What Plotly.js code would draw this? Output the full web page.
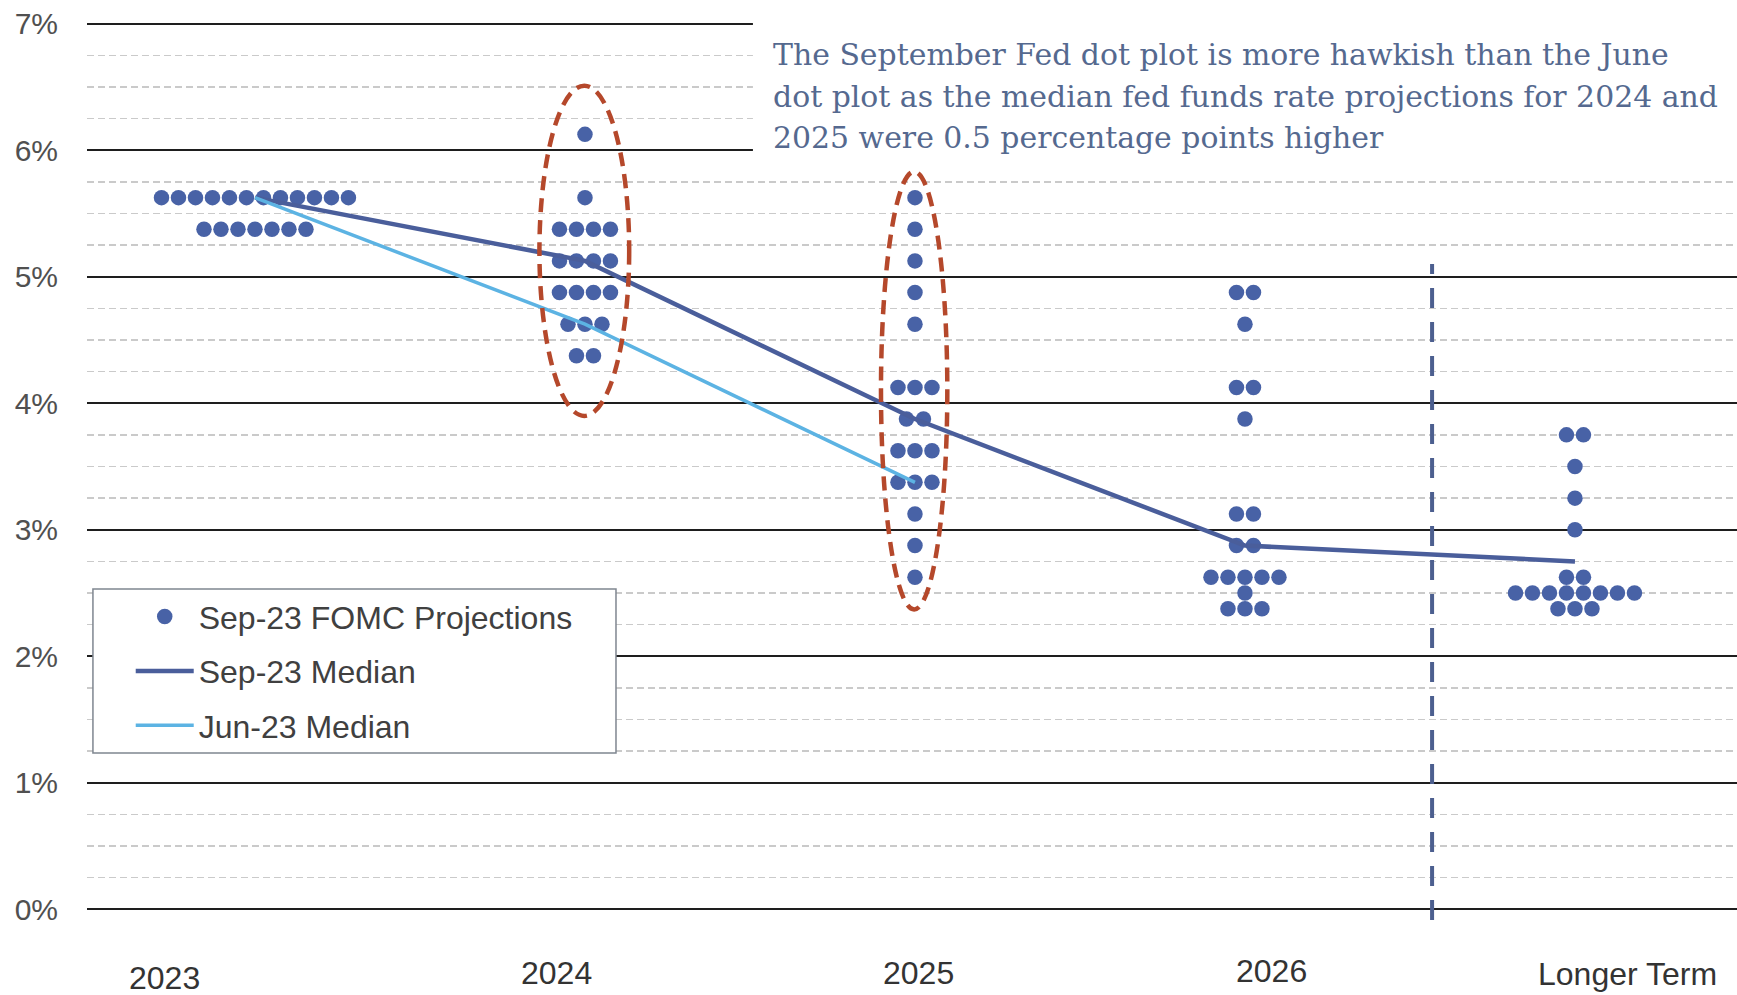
<!DOCTYPE html>
<html>
<head>
<meta charset="utf-8">
<script src="https://cdn.plot.ly/plotly-3.0.1.min.js"></script>
<style>
  html, body { margin: 0; padding: 0; background: #ffffff; }
  #chart { width: 1737px; height: 995px; }
</style>
</head>
<body>
<div id="chart"></div>
<script>
// ---------------- DATA ----------------
const categories = ['2023', '2024', '2025', '2026', 'Longer Term'];

// Sep-23 FOMC individual projections: rate levels per category and number of dots at each level
const rates2023 = [5.625, 5.375];
const counts2023 = [12, 7];
const rates2024 = [6.125, 5.625, 5.375, 5.125, 4.875, 4.625, 4.375];
const counts2024 = [1, 1, 4, 4, 4, 3, 2];
const rates2025 = [5.625, 5.375, 5.125, 4.875, 4.625, 4.125, 3.875, 3.625, 3.375, 3.125, 2.875, 2.625];
const counts2025 = [1, 1, 1, 1, 1, 3, 2, 3, 3, 1, 1, 1];
const rates2026 = [4.875, 4.625, 4.125, 3.875, 3.125, 2.875, 2.625, 2.5, 2.375];
const counts2026 = [2, 1, 2, 1, 2, 2, 5, 1, 3];
const ratesLonger = [3.75, 3.5, 3.25, 3.0, 2.625, 2.5, 2.375];
const countsLonger = [2, 1, 1, 1, 2, 8, 3];

// Medians
const sepMedian = [5.625, 5.125, 3.875, 2.875, 2.75];
const junMedian = [5.625, 4.625, 3.375];

const yTickVals = [0, 1, 2, 3, 4, 5, 6, 7];
const yTickText = ['0%', '1%', '2%', '3%', '4%', '5%', '6%', '7%'];
const noteLines = [
  'The September Fed dot plot is more hawkish than the June',
  'dot plot as the median fed funds rate projections for 2024 and',
  '2025 were 0.5 percentage points higher'
];

// ---------------- BUILD ----------------
const allRates = [rates2023, rates2024, rates2025, rates2026, ratesLonger];
const allCounts = [counts2023, counts2024, counts2025, counts2026, countsLonger];
const DOT_STEP = 0.0515; // horizontal spacing between dots on one level (category units)

const dotX = [], dotY = [];
allRates.forEach((rates, ci) => {
  rates.forEach((r, ri) => {
    const n = allCounts[ci][ri];
    for (let k = 0; k < n; k++) {
      dotX.push(ci + (k - (n - 1) / 2) * DOT_STEP);
      dotY.push(r);
    }
  });
});

const catIdx = categories.map((c, i) => i);

const dotColor = '#4862a6';
const traces = [
  {
    type: 'scatter', mode: 'markers', name: 'Sep-23 FOMC Projections',
    x: dotX, y: dotY, legendgroup: 'a',
    marker: { color: dotColor, size: 15.5, line: { width: 0 } },
    cliponaxis: false, hoverinfo: 'y'
  },
  {
    type: 'scatter', mode: 'lines', name: 'Sep-23 Median',
    x: catIdx.slice(0, sepMedian.length), y: sepMedian, legendgroup: 'b',
    line: { color: '#4a5e9b', width: 4.5 }
  },
  {
    type: 'scatter', mode: 'lines', name: 'Jun-23 Median',
    x: catIdx.slice(0, junMedian.length), y: junMedian, legendgroup: 'c',
    line: { color: '#5cb3e3', width: 3.5 }
  }
];

// x label positions (category units, paper heights) – layout only
const xLabelPos = [-0.273, 0.915, 2.012, 3.079, 4.158];
const xLabelY = [-0.0617, -0.0565, -0.0555, -0.054, -0.0575];

const annotations = categories.map((c, i) => ({
  x: xLabelPos[i], y: xLabelY[i], xref: 'x', yref: 'paper',
  text: c, showarrow: false, xanchor: 'center', yanchor: 'middle',
  font: { family: 'Liberation Sans, Arial, sans-serif', size: 32, color: '#333333' }
}));

const noteY = [6.76, 6.425, 6.10];
noteLines.forEach((t, i) => {
  annotations.push({
    x: 1.565, y: noteY[i], xref: 'x', yref: 'y',
    text: t, showarrow: false, xanchor: 'left', yanchor: 'middle', align: 'left',
    font: { family: 'DejaVu Serif, Georgia, serif', size: 29.9, color: '#55698f' }
  });
});

const shapes = [
  // white panel behind the note
  { type: 'rect', xref: 'x', yref: 'y', x0: 1.509, x1: 4.6, y0: 5.88, y1: 7.2,
    fillcolor: '#ffffff', line: { width: 0 }, layer: 'above' },
  // legend frame
  { type: 'rect', xref: 'paper', yref: 'paper', x0: 0.0036, x1: 0.3206, y0: 0.1855, y1: 0.3655,
    fillcolor: '#ffffff', line: { color: '#7f8690', width: 1.5 }, layer: 'above' },
  // ellipses
  { type: 'circle', xref: 'x', yref: 'y', x0: 0.862, x1: 1.134, y0: 3.90, y1: 6.51,
    line: { color: '#b5482b', width: 4.5, dash: '14px,8px' }, layer: 'above' },
  { type: 'circle', xref: 'x', yref: 'y', x0: 1.897, x1: 2.098, y0: 2.37, y1: 5.83,
    line: { color: '#b5482b', width: 4.5, dash: '14px,8px' }, layer: 'above' },
  // vertical separator
  { type: 'line', xref: 'x', yref: 'y', x0: 3.567, x1: 3.567, y0: -0.085, y1: 5.10,
    line: { color: '#4c5f8f', width: 4, dash: '20px,14px' }, layer: 'above' }
];

const layout = {
  width: 1737, height: 995,
  margin: { l: 87, r: 0, t: 11, b: 73, pad: 0 },
  paper_bgcolor: '#ffffff', plot_bgcolor: '#ffffff',
  showlegend: true,
  legend: {
    x: 0.0265, y: 0.3652, xanchor: 'left', yanchor: 'top',
    bgcolor: 'rgba(0,0,0,0)', borderwidth: 0,
    font: { family: 'Liberation Sans, Arial, sans-serif', size: 32, color: '#404040' },
    traceorder: 'grouped', tracegroupgap: 9.7, itemwidth: 58
  },
  xaxis: {
    range: [-0.509, 4.491], showgrid: false, zeroline: false, showline: false,
    showticklabels: false, ticks: '', fixedrange: true
  },
  yaxis: {
    range: [-0.1, 7.1], tickmode: 'array', tickvals: yTickVals, ticktext: yTickText,
    showgrid: true, gridcolor: '#1e1e1e', gridwidth: 2, zeroline: false, showline: false,
    ticks: '', ticklabelstandoff: 28,
    tickfont: { family: 'Liberation Sans, Arial, sans-serif', size: 30, color: '#505050' },
    minor: { dtick: 0.25, tick0: 0, showgrid: true, gridcolor: '#cacaca', gridwidth: 1.5, griddash: '7px,4px', ticks: '' },
    fixedrange: true
  },
  annotations: annotations,
  shapes: shapes
};

Plotly.newPlot('chart', traces, layout, { displayModeBar: false, staticPlot: true });
</script>
</body>
</html>
